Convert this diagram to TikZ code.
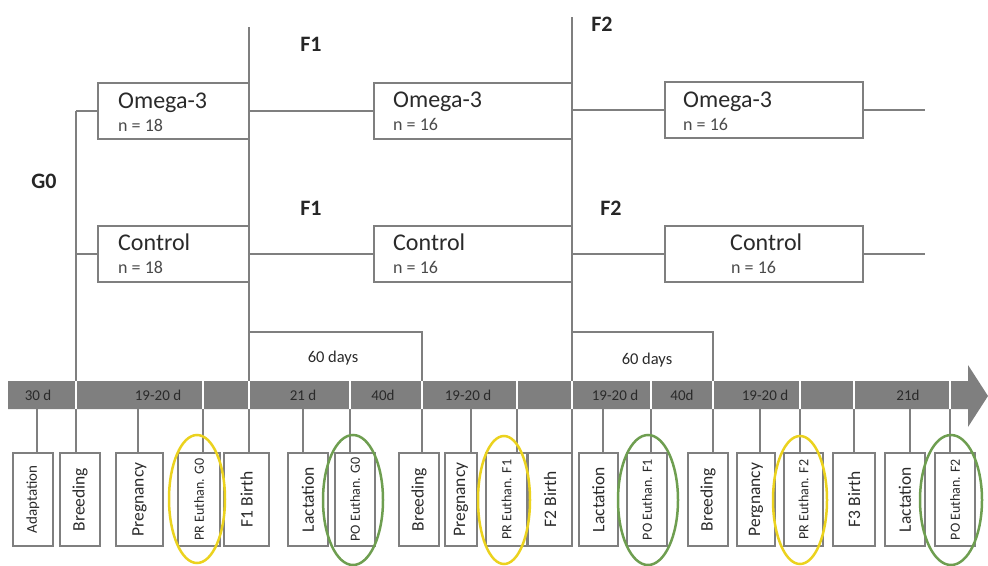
\documentclass[tikz,border=0pt]{standalone}
\usepackage{fontspec}
\setmainfont{Carlito}
\usetikzlibrary{calc}
\definecolor{lg}{HTML}{7F7F7F}
\definecolor{barc}{HTML}{7F7F7F}
\definecolor{txt}{HTML}{2A2A2A}
\definecolor{yel}{HTML}{EBD21E}
\definecolor{grn}{HTML}{6E9E50}
\begin{document}
\begin{tikzpicture}[x=1pt,y=-1pt,
  ln/.style={draw=lg, line width=1.8pt},
  topbox/.style={draw=lg, line width=1.8pt, minimum height=56pt, inner sep=0pt},
  vb/.style={draw=lg, line width=1.5pt, minimum height=93pt, inner sep=0pt},
  big/.style={font=\fontsize{24}{26}\selectfont, text=txt, anchor=base west, inner sep=0pt},
  small/.style={font=\fontsize{18}{20}\selectfont, text=txt!85, anchor=base west, inner sep=0pt},
  gen/.style={font=\fontsize{22}{24}\selectfont\bfseries, text=black!85, inner sep=0pt},
  barlab/.style={font=\fontsize{15}{16}\selectfont, text=txt, inner sep=0pt},
  days/.style={font=\fontsize{16.5}{18}\selectfont, text=txt, inner sep=0pt},
  ell/.style={line width=2.5pt}]
\useasboundingbox (0,0) rectangle (988,565);

% timeline arrow
\fill[barc] (8,381) -- (968,381) -- (968,365) -- (988,396) -- (968,427) -- (968,409) -- (8,409) -- cycle;
\foreach \x in {76,203,249,350,422,517,572,651,713,800,854,950}
  \draw[white, line width=2pt] (\x,380) -- (\x,410);

% bar labels
\node[barlab] (l1) at (38,395) {30 d};
\node[barlab] (l2) at (158,395) {19-20 d};
\node[barlab] (l3) at (303,395) {21 d};
\node[barlab] (l4) at (383,395) {40d};
\node[barlab] (l5) at (468,395) {19-20 d};
\node[barlab] (l6) at (615,395) {19-20 d};
\node[barlab] (l7) at (682,395) {40d};
\node[barlab] (l8) at (765,395) {19-20 d};
\node[barlab] (l9) at (908,395) {21d};

% top boxes
\node[topbox, minimum width=151pt] (o0) at (173.5,111) {};
\node[topbox, minimum width=151pt] (c0) at (173.5,254) {};
\node[topbox, minimum width=198pt] (o1) at (473,111) {};
\node[topbox, minimum width=198pt] (c1) at (473,254) {};
\node[topbox, minimum width=198pt] (o2) at (764,110) {};
\node[topbox, minimum width=198pt] (c2) at (764,254) {};

\node[big] (o0t) at (118,108) {Omega-3};
\node[small] (o0n) at (118,131) {n = 18};
\node[big] (c0t) at (118,250) {Control};
\node[small] (c0n) at (118,273) {n = 18};
\node[big] (o1t) at (393,107) {Omega-3};
\node[small] (o1n) at (393,130) {n = 16};
\node[big] (c1t) at (393,250) {Control};
\node[small] (c1n) at (393,273) {n = 16};
\node[big] (o2t) at (683,107) {Omega-3};
\node[small] (o2n) at (683,130) {n = 16};
\node[big] (c2t) at (730,250) {Control};
\node[small] (c2n) at (731,273) {n = 16};

% generation labels
\node[gen] (g0) at (44,181) {G0};
\node[gen] (f1a) at (311,44) {F1};
\node[gen] (f1b) at (311,208) {F1};
\node[gen] (f2a) at (602,24) {F2};
\node[gen] (f2b) at (611,208) {F2};

% G0 tree
\coordinate (g0top) at (76,111);
\coordinate (g0bot) at (76,381);
\draw[ln] (g0top) -- (g0bot);
\draw[ln] (g0top) -- (o0.west);
\draw[ln] (g0top |- c0.west) -- (c0.west);

% F1 line
\coordinate (f1top) at (249,27);
\coordinate (f1bot) at (249,381);
\draw[ln] (f1top) -- (f1bot);
\draw[ln] (o0.east) -- (o1.west);
\draw[ln] (c0.east) -- (c1.west);

% F2 line
\coordinate (f2top) at (572,17);
\coordinate (f2bot) at (572,381);
\draw[ln] (f2top) -- (f2bot);
\draw[ln] (f2top |- o2.west) -- (o2.west);
\draw[ln] (f2top |- c2.west) -- (c2.west);
\coordinate (o2tail) at (925,110);
\coordinate (c2tail) at (925,254);
\draw[ln] (o2.east) -- (o2tail);
\draw[ln] (c2.east) -- (c2tail);

% 60 days brackets
\coordinate (d1a) at (249,332);
\coordinate (d1b) at (422,332);
\coordinate (d1c) at (422,381);
\draw[ln] (d1a) -- (d1b) -- (d1c);
\node[days] (d1) at (333,358) {60 days};
\coordinate (d2a) at (572,332);
\coordinate (d2b) at (713,332);
\coordinate (d2c) at (713,381);
\draw[ln] (d2a) -- (d2b) -- (d2c);
\node[days] (d2) at (647,360) {60 days};

% bottom boxes
\foreach \i/\cx/\w/\tx/\fs/\lab in {
  1/33/40/37/15/Adaptation,
  2/80/40/76/17.5/Breeding,
  3/139.5/47/138/17.5/Pregnancy,
  4/199/42/203/14/PR Euthan. G0,
  5/246.5/45/249/17.5/F1 Birth,
  6/308/40/303/17.5/Lactation,
  7/355/40/350/14/PO Euthan. G0,
  8/419/40/422/17.5/Breeding,
  9/461/32/471/17.5/Pregnancy,
  10/506.5/41/517/14/PR Euthan. F1,
  11/550/44/572/17.5/F2 Birth,
  12/598.5/39/603/17.5/Lactation,
  13/647/40/651/14/PO Euthan. F1,
  14/708/40/713/17.5/Breeding,
  15/756/38/760/17.5/Pergnancy,
  16/803.5/39/800/14/PR Euthan. F2,
  17/854/42/854/17.5/F3 Birth,
  18/905/40/910/17.5/Lactation,
  19/955/40/950/14/PO Euthan. F2}{
  \node[vb, minimum width=\w pt] (b\i) at (\cx,499.5) {};
  \node[rotate=90, text=txt, inner sep=0pt, font=\fontsize{\fs}{\fs}\selectfont] (bt\i) at (b\i) {\lab};
  \coordinate (t\i) at (\tx,409);
  \draw[ln] (t\i) -- (t\i |- b\i.north);
}

% highlight ellipses
\draw[yel, ell] (197,499) ellipse [x radius=28, y radius=64];
\draw[grn, ell] (353,500) ellipse [x radius=30, y radius=65];
\draw[yel, ell] (504,500) ellipse [x radius=26, y radius=64];
\draw[grn, ell] (648,500) ellipse [x radius=30, y radius=65];
\draw[yel, ell] (800,500) ellipse [x radius=27, y radius=64];
\draw[grn, ell] (951,500) ellipse [x radius=31, y radius=65];
\end{tikzpicture}
\end{document}
